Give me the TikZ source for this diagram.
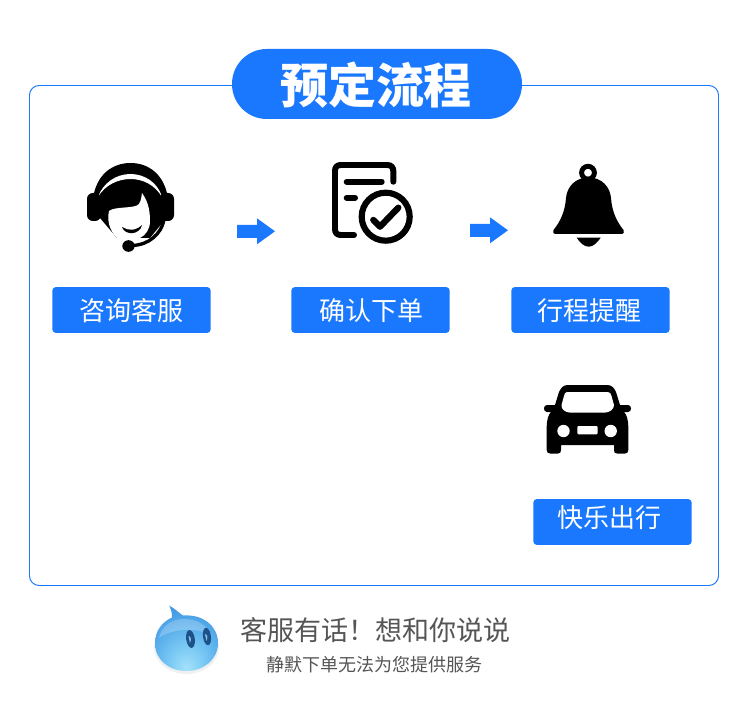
\documentclass[tikz,border=0pt]{standalone}
\usepackage{fontspec}
\setmainfont{Noto Sans CJK SC}
\usetikzlibrary{positioning}
\definecolor{mainblue}{HTML}{1A78FF}
\definecolor{muted}{HTML}{555555}
\definecolor{blobeye}{HTML}{1C5288}
\definecolor{blobeyelight}{HTML}{7FB8E6}
\definecolor{blobA}{HTML}{A5E2FA}
\definecolor{blobB}{HTML}{78C8F4}
\definecolor{blobC}{HTML}{4EA5E8}
\definecolor{blobD}{HTML}{3084D6}
\definecolor{blobE}{HTML}{1E69BE}
\pgfdeclareradialshading{blobshade}{\pgfpoint{0bp}{-24bp}}{%
  color(0bp)=(blobA);
  color(14bp)=(blobB);
  color(30bp)=(blobC);
  color(46bp)=(blobD);
  color(70bp)=(blobE)}
\tikzset{
  tagbox/.style={fill=mainblue,rounded corners=2pt,minimum width=90.1pt,minimum height=26.1pt,inner sep=0pt},
  tagtext/.style={text=white,font=\fontsize{14.8pt}{16pt}\selectfont,inner sep=0pt},
  footline/.style={text=muted,inner sep=0pt},
}
\begin{document}
\begin{tikzpicture}[x=0.02cm,y=-0.02cm,line cap=round,line join=round]
\useasboundingbox (0,0) rectangle (750,709);
% frame and title
\draw[mainblue,line width=0.55pt,rounded corners=5.5pt] (29.5,85.5) rectangle (718.5,585.5);
\fill[mainblue,rounded corners=19.8pt] (232,49) rectangle (522,119);
\node[text=white,inner sep=0pt,font=\fontsize{27.3pt}{30pt}\selectfont\bfseries] (title) at (376,85.5) {预定流程};
% labels
\node[tagbox] (boxA) at (131.5,310) {};
\node[tagbox] (boxB) at (370.5,310) {};
\node[tagbox] (boxC) at (590.5,310) {};
\node[tagbox] (boxD) at (612.5,522) {};
\node[tagtext] (tagA) at (131.5,310.5) {咨询客服};
\node[tagtext] (tagB) at (371.5,310.5) {确认下单};
\node[tagtext] (tagC) at (589,310.5) {行程提醒};
\node[tagtext] (tagD) at (609.5,518) {快乐出行};
% arrows
\foreach \ax/\ay in {237/231.3,470/230.3}
  \fill[mainblue,line join=miter] (\ax,\ay-6.5) -- ++(20,0) -- ++(0,-6.5) -- ++(18,13) -- ++(-18,13) -- ++(0,-6.5) -- ++(-20,0) -- cycle;
% headset
\fill (93,199) .. controls (96,175) and (112,163) .. (130.5,163) .. controls (149,163) and (165,175) .. (168,199) -- (163,222) -- (150,238) -- (117,238) -- (100,218) -- cycle;
\fill[white] (98,197) .. controls (103,183) and (116,174) .. (130.5,174) .. controls (145,174) and (158,183) .. (162,197) .. controls (155,185) and (143,179) .. (130.5,179) .. controls (118,179) and (105,185) .. (98,197) -- cycle;
\fill[white] (109,211) .. controls (115,206) and (135,209) .. (139,204) .. controls (142,199) and (141,196) .. (142,193) .. controls (147,200) and (150,208) .. (150,221) .. controls (150,229) and (146,235) .. (140,238) .. controls (133,241) and (124,241) .. (117,238) .. controls (109,230) and (107,220) .. (109,211) -- cycle;
\fill (122,227) .. controls (128,231) and (136,231) .. (142,225) .. controls (140,235) and (125,236) .. (122,227) -- cycle;
\fill[rounded corners=3.4pt] (87,193) rectangle (101,221);
\fill[rounded corners=3.4pt] (160,193) rectangle (174,221);
\draw[line width=1.9pt] (164,220) .. controls (161,234) and (149,245) .. (132,245.5);
\fill (128.5,246) ellipse (6.2 and 5.8);
% document
\draw[line width=3.4pt] (393.3,181.7) -- (393.3,171) .. controls (393.3,167) and (391,165) .. (387,165) -- (341,165) .. controls (337,165) and (335,167) .. (335,171) -- (335,229) .. controls (335,233) and (337,235) .. (341,235) -- (354,235);
\draw[line width=3.4pt] (346.7,181.7) -- (381.7,181.7);
\draw[line width=3.4pt] (346.7,197.7) -- (355,197.7);
\draw[line width=3.5pt,fill=white] (385.7,216.7) circle (24);
\draw[line width=3.6pt] (373.3,220) -- (380,226.7) -- (398.3,207.7);
% bell
\draw[line width=2.8pt] (588,172.7) circle (6.4);
\fill (588.5,177.5) .. controls (575,177.5) and (567,187) .. (566,198) .. controls (565,212) and (560,222) .. (553.5,230) .. controls (552.5,232) and (553,234) .. (556,234) -- (621,234) .. controls (624,234) and (624.5,232) .. (623.5,230) .. controls (617,222) and (612,212) .. (611,198) .. controls (610,187) and (602,177.5) .. (588.5,177.5) -- cycle;
\fill (576.7,237.7) -- (600.7,237.7) .. controls (597,243) and (593,246.7) .. (588.7,246.7) .. controls (584.4,246.7) and (580,243) .. (576.7,237.7) -- cycle;
% car
\fill (568,385) -- (607,385) .. controls (612,385) and (614,388) .. (616,392) -- (620,405) -- (628,405) .. controls (632,405) and (632,412) .. (628,412) -- (624,412) .. controls (627,415) and (628,420) .. (628.3,426) -- (628.3,450) .. controls (628.3,452.5) and (627,453.5) .. (625,453.5) -- (617,453.5) .. controls (615,453.5) and (614,452.5) .. (614,450) -- (614,445) -- (561,445) -- (561,450) .. controls (561,452.5) and (560,453.5) .. (558,453.5) -- (550,453.5) .. controls (548,453.5) and (546.7,452.5) .. (546.7,450) -- (546.7,426) .. controls (547,420) and (548,415) .. (551,412) -- (547,412) .. controls (543,412) and (543,405) .. (547,405) -- (555,405) -- (559,392) .. controls (561,388) and (563,385) .. (568,385) -- cycle;
\fill[white] (567,392) -- (608,392) .. controls (610,392) and (611,394) .. (611.5,396) -- (614,405) .. controls (614,409) and (610,412.7) .. (604,412.7) -- (571,412.7) .. controls (565,412.7) and (561,409) .. (561.5,405) -- (564,396) .. controls (564.5,394) and (565,392) .. (567,392) -- cycle;
\fill[white] (563.5,431) circle (6.2) (610.7,431) circle (6.2);
\fill[white,rounded corners=0.6pt] (577.3,426) rectangle (597.7,434.3);
% mascot
\fill[black!20,opacity=0.3] (186.5,647) ellipse (32.5 and 27);
\shade[shading=blobshade] (169.3,605.7) .. controls (174,608) and (178,612) .. (183,615.5) .. controls (203,614) and (218,626) .. (218,643) .. controls (218,660) and (203,671) .. (186.5,671) .. controls (169,671) and (155,660) .. (155,643) .. controls (155,631) and (162,622) .. (172,617.5) .. controls (172,612) and (171,609) .. (169.3,605.7) -- cycle;
\fill[white,opacity=0.22] (159,638) .. controls (162,625) and (172,619) .. (184,619) .. controls (197,619) and (207,625) .. (212,636) .. controls (200,627) and (172,628) .. (159,638) -- cycle;
\fill[blobeye,rotate around={8:(190.5,639)}] (190.5,639) ellipse (4.3 and 9);
\fill[blobeye,rotate around={8:(207,636.5)}] (207,636.5) ellipse (4 and 8.7);
\fill[blobeyelight] (188.5,636) .. controls (190.5,636) and (192,639) .. (190,643) .. controls (189,641) and (189,638) .. (188.5,636) -- cycle;
\fill[blobeyelight] (205,634) .. controls (207,634) and (208.5,637) .. (206.5,641) .. controls (205.5,639) and (205.5,636) .. (205,634) -- cycle;
% footer
\node[footline,font=\fontsize{15.4pt}{17pt}\selectfont] (talk) at (375.5,630) {客服有话！想和你说说};
\node[footline,font=\fontsize{10.25pt}{12pt}\selectfont] (note) at (374.5,664.5) {静默下单无法为您提供服务};
\end{tikzpicture}
\end{document}
